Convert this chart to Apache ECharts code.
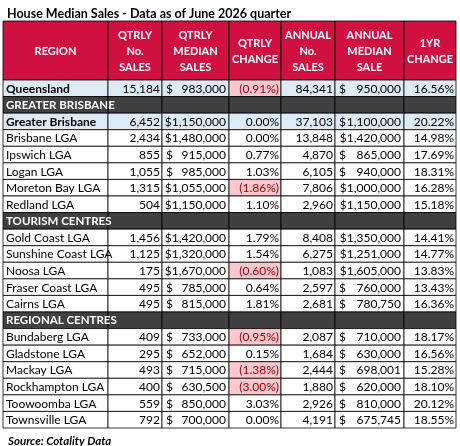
<!DOCTYPE html>
<html><head><meta charset="utf-8">
<script src="https://cdn.jsdelivr.net/npm/echarts@6/dist/echarts.min.js"></script>
<style>html,body{margin:0;padding:0;background:#fff}#c{width:460px;height:446px}</style>
</head><body><div id="c"></div>
<script>
const title = 'House Median Sales - Data as of June 2026 quarter';
const source = 'Source: Cotality Data';
const headers = ['REGION','QTRLY\nNo.\nSALES','QTRLY\nMEDIAN\nSALES','QTRLY\nCHANGE','ANNUAL\nNo.\nSALES','ANNUAL\nMEDIAN\nSALE','1YR\nCHANGE'];
// row kinds: 'total' (bold blue), 'section' (dark band), 'row'
const kinds = ['total','section','total','row','row','row','row','row','section','row','row','row','row','row','section','row','row','row','row','row','row'];
const regions = ['Queensland','GREATER BRISBANE','Greater Brisbane','Brisbane LGA','Ipswich LGA','Logan LGA','Moreton Bay LGA','Redland LGA','TOURISM CENTRES','Gold Coast LGA','Sunshine Coast LGA','Noosa LGA','Fraser Coast LGA','Cairns LGA','REGIONAL CENTRES','Bundaberg LGA','Gladstone LGA','Mackay LGA','Rockhampton LGA','Toowoomba LGA','Townsville LGA'];
const qtrlyNo = [15184,null,6452,2434,855,1055,1315,504,null,1456,1125,175,495,495,null,409,295,493,400,559,792];
const qtrlyMedian = [983000,null,1150000,1480000,915000,985000,1055000,1150000,null,1420000,1320000,1670000,785000,815000,null,733000,652000,715000,630500,850000,700000];
const qtrlyChange = [-0.91,null,0.00,0.00,0.77,1.03,-1.86,1.10,null,1.79,1.54,-0.60,0.64,1.81,null,-0.95,0.15,-1.38,-3.00,3.03,0.00];
const annualNo = [84341,null,37103,13848,4870,6105,7806,2960,null,8408,6275,1083,2597,2681,null,2087,1684,2444,1880,2926,4191];
const annualMedian = [950000,null,1100000,1420000,865000,940000,1000000,1150000,null,1350000,1251000,1605000,760000,780750,null,710000,630000,698001,620000,810000,675745];
const yrChange = [16.56,null,20.22,14.98,17.69,18.31,16.28,15.18,null,14.41,14.77,13.83,13.43,16.36,null,18.17,16.56,15.28,18.10,20.12,18.55];

const edges = [0,105,159,226,278,332,401,453];
const HEAD = 3.56;
const fmt = n => n.toLocaleString('en-US');
const FONT = '"Liberation Sans Narrow", "Open Sans", sans-serif';
const BASE = 'Lato, "Open Sans", sans-serif';

const data = [];
headers.forEach((h,c)=>data.push([c,-1,'head']));
regions.forEach((r,i)=>{ for(let c=0;c<7;c++) data.push([c,i,kinds[i]]); });

function cellText(c,i){
  if(c===0) return regions[i];
  if(kinds[i]==='section') return '';
  const arr=[null,qtrlyNo,qtrlyMedian,qtrlyChange,annualNo,annualMedian,yrChange][c];
  const v=arr[i];
  if(c===3||c===6){ return v<0 ? '('+Math.abs(v).toFixed(2)+'%)' : v.toFixed(2)+'%'; }
  return fmt(v);
}

function renderItem(params, api){
  const c=api.value(0), i=api.value(1), kind=data[params.dataIndex][2];
  const y0 = i<0 ? -HEAD : i, y1 = i<0 ? 0 : i+1;
  const p0=api.coord([edges[c],y0]), p1=api.coord([edges[c+1],y1]);
  const x=p0[0], y=p0[1], w=p1[0]-p0[0], h=p1[1]-p0[1];
  let fill='#fff', color='#000';
  if(kind==='head'){fill='#CF1041';color='#fff';}
  else if(kind==='section'){fill='#404040';color='#fff';}
  else if(kind==='total'){fill='#DDEBF7';}
  if(kind!=='head' && kind!=='section' && c===3 && qtrlyChange[i]<0){fill='#FFC7CE';color='#9C0006';}
  const children=[{type:'rect',z2:0,shape:{x,y,width:w,height:h},style:{fill,stroke:'#000',lineWidth:0.8}}];
  const fw = kind==='section'||(kind==='total'&&c===0)?'bold':'normal';
  const font = fw+' 12px '+BASE;
  const cy=y+h/2+0.5;
  if(kind==='head'){
    children.push({type:'text',z2:10,style:{x:x+w/2,y:y+h/2+1,text:headers[c],fill:color,font:'bold 11px '+BASE,align:'center',verticalAlign:'middle',lineHeight:16}});
  } else {
    const t=cellText(c,i);
    if(c===0){
      children.push({type:'text',z2:10,style:{x:x+3,y:cy,text:t,fill:color,font:fw+(kind==='section'?' 11.5px ':' 12px ')+BASE,align:'left',verticalAlign:'middle'}});
    } else if(t!==''){
      const money=(c===2||c===5);
      if(money){
        const big=(c===2?qtrlyMedian:annualMedian)[i]>=1000000;
        const sep = !(big && !(c===5&&i===2));
        if(!sep) children.push({type:'text',z2:10,style:{x:x+w-3,y:cy,text:'$'+t,fill:color,font,align:'right',verticalAlign:'middle'}});
        else {
          children.push({type:'text',z2:10,style:{x:x+4,y:cy,text:'$',fill:color,font,align:'left',verticalAlign:'middle'}});
          children.push({type:'text',z2:10,style:{x:x+w-3,y:cy,text:t,fill:color,font,align:'right',verticalAlign:'middle'}});
        }
      } else {
        children.push({type:'text',z2:10,style:{x:x+w-2,y:cy,text:t,fill:color,font,align:'right',verticalAlign:'middle'}});
      }
    }
  }
  return {type:'group',children};
}

const chart=echarts.init(document.getElementById('c'),null,{renderer:'canvas'});
chart.setOption({
  animation:false,
  title:[{text:title,left:2,top:2,textStyle:{fontFamily:BASE,fontWeight:'bold',fontSize:12.5,color:'#000'}},
         {text:source,left:3,top:430,textStyle:{fontFamily:BASE,fontWeight:'bold',fontStyle:'italic',fontSize:11.5,color:'#000'}}],
  grid:{left:3,top:21,width:453,height:407},
  xAxis:{type:'value',min:0,max:453,show:false},
  yAxis:{type:'value',min:-HEAD,max:21,inverse:true,show:false},
  series:[{type:'custom',renderItem,data,encode:{x:0,y:1}}]
});
</script></body></html>
